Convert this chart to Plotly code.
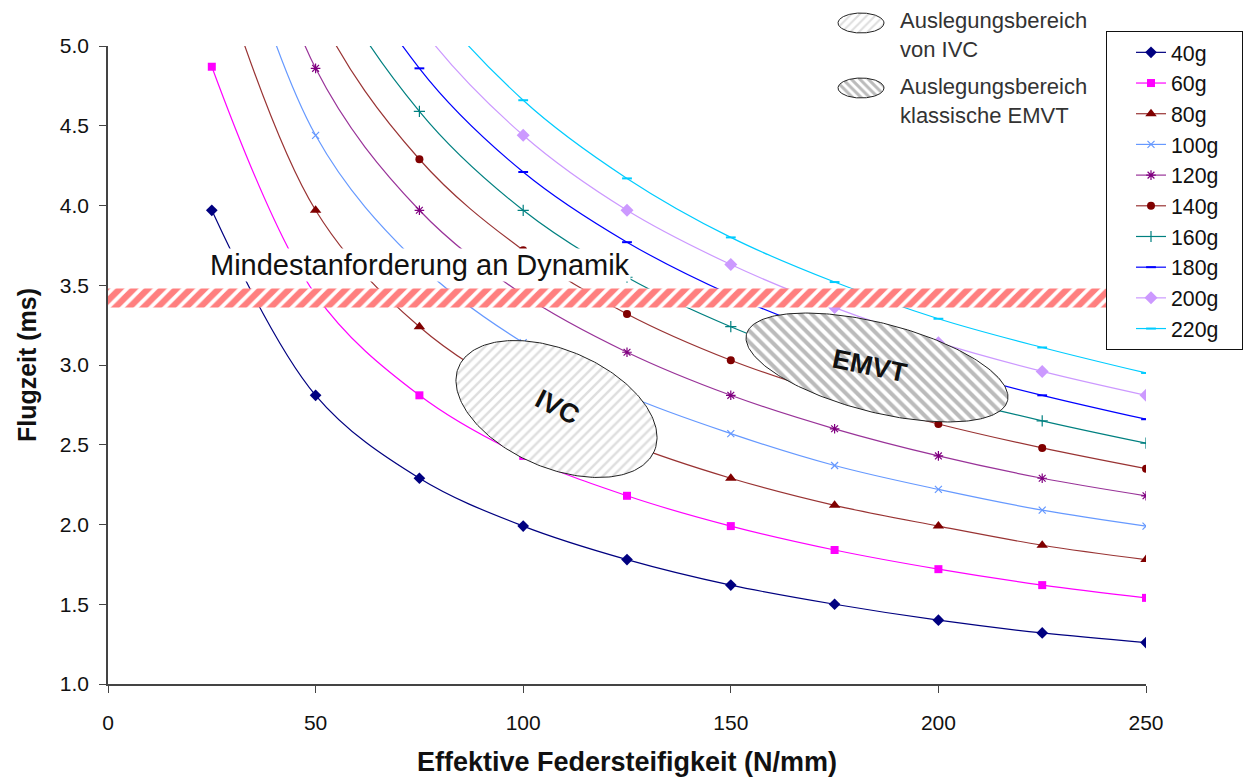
import numpy as np
import plotly.graph_objects as go

# ---------------- data ----------------
stiffness = [25, 50, 75, 100, 125, 150, 175, 200, 225, 250]  # N/mm

t_40g = [3.97, 2.81, 2.29, 1.99, 1.78, 1.62, 1.50, 1.40, 1.32, 1.26]
t_60g = [4.87, 3.44, 2.81, 2.43, 2.18, 1.99, 1.84, 1.72, 1.62, 1.54]
t_80g = [5.62, 3.97, 3.24, 2.81, 2.51, 2.29, 2.12, 1.99, 1.87, 1.78]
t_100g = [6.28, 4.44, 3.63, 3.14, 2.81, 2.57, 2.37, 2.22, 2.09, 1.99]
t_120g = [6.88, 4.86, 3.97, 3.44, 3.08, 2.81, 2.60, 2.43, 2.29, 2.18]
t_140g = [7.43, 5.25, 4.29, 3.72, 3.32, 3.03, 2.81, 2.63, 2.48, 2.35]
t_160g = [7.94, 5.62, 4.59, 3.97, 3.55, 3.24, 3.00, 2.81, 2.65, 2.51]
t_180g = [8.42, 5.96, 4.86, 4.21, 3.77, 3.44, 3.18, 2.98, 2.81, 2.66]
t_200g = [8.88, 6.28, 5.13, 4.44, 3.97, 3.63, 3.36, 3.14, 2.96, 2.81]
t_220g = [9.31, 6.59, 5.38, 4.66, 4.17, 3.80, 3.52, 3.29, 3.11, 2.95]

series_names = ["40g", "60g", "80g", "100g", "120g", "140g", "160g", "180g", "200g", "220g"]
series_values = [t_40g, t_60g, t_80g, t_100g, t_120g, t_140g, t_160g, t_180g, t_200g, t_220g]

# minimum dynamic requirement band (ms)
band_low, band_high = 3.36, 3.48
band_x_end = 242

x_ticks = [0, 50, 100, 150, 200, 250]
y_ticks = [1.0, 1.5, 2.0, 2.5, 3.0, 3.5, 4.0, 4.5, 5.0]

# ---------------- styles ----------------
W, H = 1253, 777
styles = {
    "40g": dict(line="#000080", mc="#000080", sym="diamond", size=9, lw=0),
    "60g": dict(line="#FF00FF", mc="#FF00FF", sym="square", size=8, lw=0),
    "80g": dict(line="#993333", mc="#800000", sym="triangle-up", size=10, lw=0),
    "100g": dict(line="#6699FF", mc="#6699FF", sym="x-thin", size=7, lw=1.2),
    "120g": dict(line="#993399", mc="#800080", sym="asterisk", size=8, lw=1.2),
    "140g": dict(line="#993333", mc="#800000", sym="circle", size=8, lw=0),
    "160g": dict(line="#008080", mc="#008080", sym="cross-thin", size=8, lw=1.2),
    "180g": dict(line="#0000FF", mc="#0000FF", sym="line-ew", size=7, lw=2),
    "200g": dict(line="#CC99FF", mc="#CC99FF", sym="diamond", size=10, lw=0),
    "220g": dict(line="#00CCFF", mc="#00CCFF", sym="line-ew", size=7, lw=2),
}

fig = go.Figure()

for name, vals in zip(series_names, series_values):
    s = styles[name]
    fig.add_trace(go.Scatter(
        x=stiffness, y=vals, name=name + "\u00a0\u00a0\u00a0", mode="lines+markers",
        line=dict(color=s["line"], width=1.2, shape="spline", smoothing=1.0),
        marker=dict(symbol=s["sym"], size=s["size"], color=s["mc"],
                    line=dict(color=s["mc"], width=s["lw"])),
        xaxis="x", yaxis="y",
    ))

# red hatched band (on an overlaid data axis pair so it covers the curves)
fig.add_trace(go.Scatter(
    x=[0, band_x_end, band_x_end, 0, 0],
    y=[band_low, band_low, band_high, band_high, band_low],
    mode="lines", fill="toself", line=dict(width=0, color="rgba(0,0,0,0)"),
    fillcolor="white",
    fillpattern=dict(shape="/", fgcolor="#FF0000", bgcolor="white", size=10, solidity=0.62),
    showlegend=False, hoverinfo="skip", xaxis="x3", yaxis="y3",
))


def ellipse(cx, cy, a, b, deg, n=240):
    t = np.linspace(0, 2 * np.pi, n)
    th = np.radians(deg)
    ex = cx + a * np.cos(t) * np.cos(th) - b * np.sin(t) * np.sin(th)
    ey = cy + a * np.cos(t) * np.sin(th) + b * np.sin(t) * np.cos(th)
    return ex, ey


def add_ellipse(cx, cy, a, b, deg, shape, fg, size, sol):
    ex, ey = ellipse(cx, cy, a, b, deg)
    fig.add_trace(go.Scatter(
        x=ex, y=ey, mode="lines", fill="toself",
        line=dict(color="#222222", width=1),
        fillcolor="white",
        fillpattern=dict(shape=shape, fgcolor=fg, bgcolor="white", size=size, solidity=sol),
        showlegend=False, hoverinfo="skip", xaxis="x2", yaxis="y2",
    ))


# design regions (pixel overlay)
add_ellipse(556.5, 409, 106.5, 58.8, 23.3, "/", "#BDBDBD", 7, 0.35)
add_ellipse(877, 367.5, 134.7, 44.5, 14.3, "\\", "#777777", 8, 0.5)
# key icons
add_ellipse(861, 23, 23, 10, 0, "/", "#BDBDBD", 6, 0.35)
add_ellipse(861, 88, 23, 10, 0, "\\", "#777777", 6, 0.5)

axis_color = "#444444"
fig.update_layout(
    width=W, height=H,
    margin=dict(l=0, r=0, t=0, b=0, autoexpand=False),
    paper_bgcolor="white", plot_bgcolor="rgba(0,0,0,0)",
    font=dict(family="Arial, Liberation Sans, sans-serif", color="#111111"),
    showlegend=True,
    legend=dict(
        x=1106 / W, y=1 - 31 / H, xanchor="left", yanchor="top",
        bordercolor="#111111", borderwidth=1, bgcolor="white",
        font=dict(size=21.3, color="#111111"),
        indentation=24, itemwidth=30,
    ),
    xaxis=dict(
        domain=[108 / W, 1146 / W], range=[0, 250], anchor="y", automargin=False,
        tickvals=x_ticks, ticktext=[str(v) for v in x_ticks],
        showline=True, linecolor=axis_color, linewidth=1.5,
        ticks="outside", ticklen=7, tickwidth=1.2, tickcolor=axis_color,
        showgrid=False, zeroline=False,
        tickfont=dict(size=21, color="#111111"), ticklabelstandoff=12,
        title=dict(text="<b>Effektive Federsteifigkeit (N/mm)</b>",
                   font=dict(size=27, color="#111111"), standoff=22),
    ),
    yaxis=dict(
        domain=[1 - 684 / H, 1 - 46 / H], range=[1, 5], anchor="x", automargin=False,
        tickvals=y_ticks, ticktext=[f"{v:.1f}" for v in y_ticks],
        showline=True, linecolor=axis_color, linewidth=1.5,
        ticks="outside", ticklen=7, tickwidth=1.2, tickcolor=axis_color,
        showgrid=False, zeroline=False,
        tickfont=dict(size=21, color="#111111"), ticklabelstandoff=6,
        title=dict(text="<b>Flugzeit (ms)</b>",
                   font=dict(size=25, color="#111111"), standoff=16),
    ),
    xaxis3=dict(overlaying="x", range=[0, 250], anchor="y3", visible=False,
                fixedrange=True, automargin=False),
    yaxis3=dict(overlaying="y", range=[1, 5], anchor="x3", visible=False,
                fixedrange=True, automargin=False),
    xaxis2=dict(domain=[0, 1], range=[0, W], anchor="y2", visible=False,
                fixedrange=True, automargin=False),
    yaxis2=dict(domain=[0, 1], range=[H, 0], anchor="x2", visible=False,
                fixedrange=True, automargin=False),
    annotations=[
        dict(text="Mindestanforderung an Dynamik", xref="x2", yref="y2", x=209, y=265,
             xanchor="left", yanchor="middle", showarrow=False, bgcolor="white",
             borderpad=0, font=dict(size=29, color="#111111")),
        dict(text="<b>IVC</b>", xref="x2", yref="y2", x=557, y=407, textangle=27,
             showarrow=False, font=dict(size=27, color="#111111")),
        dict(text="<b>EMVT</b>", xref="x2", yref="y2", x=870, y=366, textangle=12,
             showarrow=False, font=dict(size=27, color="#111111")),
        dict(text="Auslegungsbereich<br>von IVC", xref="x2", yref="y2", x=898, y=35,
             xanchor="left", yanchor="middle", align="left", showarrow=False,
             font=dict(size=22, color="#333333")),
        dict(text="Auslegungsbereich<br>klassische EMVT", xref="x2", yref="y2", x=898, y=101,
             xanchor="left", yanchor="middle", align="left", showarrow=False,
             font=dict(size=22, color="#333333")),
    ],
)

post = ("var s=document.documentElement.style;s.margin='0';s.padding='0';s.overflow='hidden';"
        "var b=document.body.style;b.margin='0';b.padding='0';b.overflow='hidden';")
fig.write_html("out.html", config={"displayModeBar": False}, post_script=post)
